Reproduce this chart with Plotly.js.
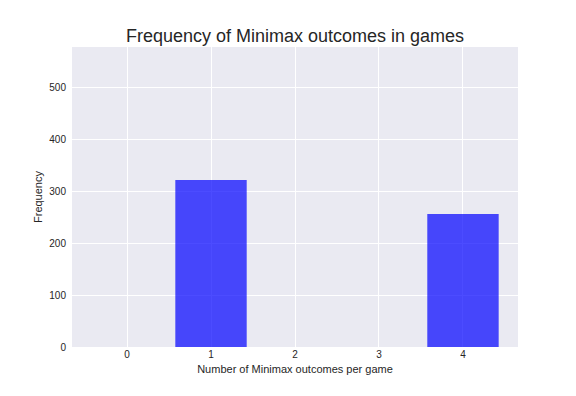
<!DOCTYPE html>
<html>
<head>
<meta charset="utf-8">
<script src="https://cdn.plot.ly/plotly-3.0.1.min.js"></script>
<style>html,body{margin:0;padding:0;background:#fff;}#chart{width:576px;height:396px;}</style>
</head>
<body>
<div id="chart"></div>
<script>
const outcomes = [0, 1, 2, 3, 4];
const frequency = [0, 321, 0, 0, 256];
const tickLabels = ["0", "1", "2", "3", "4"];
const yTicks = [0, 100, 200, 300, 400, 500];

Plotly.newPlot('chart', [{
  type: 'bar',
  x: outcomes,
  y: frequency,
  width: 0.85,
  marker: {color: 'rgb(0,0,255)', line: {width: 0}},
  opacity: 0.7,
  hoverinfo: 'none'
}], {
  width: 576, height: 396,
  paper_bgcolor: '#ffffff',
  plot_bgcolor: '#EAEAF2',
  margin: {l: 72, r: 58, t: 47, b: 49},
  font: {family: 'Liberation Sans, Arial, sans-serif', color: '#262626'},
  title: {text: 'Frequency of Minimax outcomes in games', font: {size: 18, color: '#262626'}, xref: 'paper', x: 0.5, xanchor: 'center', y: 0.91, yanchor: 'middle'},
  xaxis: {
    range: [-0.655, 4.655],
    tickvals: outcomes, ticktext: tickLabels,
    showgrid: true, gridcolor: '#ffffff', gridwidth: 1,
    zeroline: false, showline: false, ticks: '',
    tickfont: {size: 10, color: '#262626'},
    title: {text: 'Number of Minimax outcomes per game', font: {size: 11, color: '#262626'}, standoff: 6}
  },
  yaxis: {
    range: [0, 577],
    tickvals: yTicks,
    showgrid: true, gridcolor: '#ffffff', gridwidth: 1,
    zeroline: false, showline: false, ticks: '',
    ticklabelstandoff: 5,
    tickfont: {size: 10, color: '#262626'},
    title: {text: 'Frequency', font: {size: 11, color: '#262626'}, standoff: 4}
  },
  showlegend: false
}, {displayModeBar: false, staticPlot: true});
</script>
</body>
</html>
